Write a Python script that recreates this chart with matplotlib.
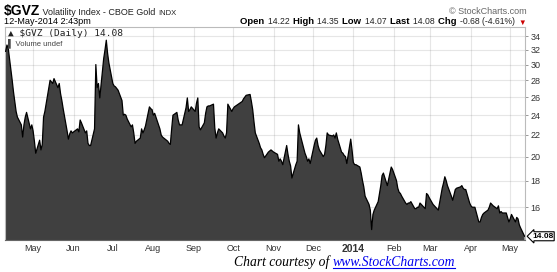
import matplotlib
matplotlib.use('Agg')
import matplotlib.pyplot as plt
from matplotlib.ticker import NullLocator
import pandas as pd

W, H = 557, 272

# daily closes of $GVZ, one per business day starting 2013-04-10
gvz = [
    31.8, 32.7, 32.2,
    28.0, 26.6, 25.5, 24.4, 23.8,
    23.0, 21.8, 23.0, 23.8, 24.3,
    22.6, 23.0, 22.4, 21.4, 20.3,
    21.5, 20.6, 21.1, 23.8, 24.4,
    27.0, 28.0, 27.8, 27.6, 28.2,
    27.1, 27.6, 26.4, 25.6, 24.7,
    22.4, 21.6, 22.1, 22.4, 22.2,
    22.5, 22.6, 22.3, 23.5, 23.2,
    22.2, 22.4, 21.2, 21.0, 21.0,
    22.6, 30.0, 27.1, 27.6, 25.9,
    30.8, 32.0, 33.4, 31.5, 30.2,
    27.6, 27.3, 27.2, 27.0, 26.8,
    25.6, 24.0, 24.1, 24.0, 23.6,
    22.8, 23.0, 22.2, 21.2, 21.4,
    21.7, 22.6, 22.2, 22.5, 22.9,
    24.9, 24.7, 24.6, 24.0, 24.2,
    23.0, 22.6, 22.0, 21.8, 21.7,
    21.4, 21.2, 21.1, 22.6, 24.0,
    24.3, 23.5, 23.0, 23.0, 23.0,
    24.8, 25.9, 24.4, 24.6, 24.9,
    24.4, 25.3, 25.9, 22.8, 22.5,
    23.2, 24.2, 24.9, 25.0, 25.0,
    25.2, 22.7, 21.7, 22.2, 22.6,
    22.2, 21.9, 21.7, 22.2, 25.2,
    24.4, 24.7, 24.9, 25.0, 25.1,
    25.4, 25.5, 25.8, 26.0, 26.2,
    26.3, 25.5, 24.6, 23.3, 22.2,
    21.2, 20.8, 20.6, 20.2, 19.9,
    20.4, 20.5, 20.6, 20.5, 20.4,
    20.2, 19.6, 19.8, 19.6, 19.3,
    21.0, 20.2, 19.6, 19.2, 18.2,
    19.3, 19.6, 23.0, 22.2, 21.7,
    20.3, 20.0, 19.6, 19.8, 19.4,
    21.0, 21.5, 21.7, 21.0, 20.6,
    20.0, 20.2, 21.0, 22.2, 22.0,
    21.9, 22.0, 21.7, 22.2, 21.6,
    20.4, 20.3, 20.1, 20.0, 19.4,
    21.6, 20.6, 19.5, 19.3, 19.3,
    19.1, 18.6, 18.0, 17.5, 16.8,
    16.2, 15.8, 14.5, 15.5, 15.8,
    16.4, 17.0, 17.6, 18.4, 18.6,
    17.6, 18.1, 18.6, 19.1, 18.9,
    18.0, 17.4, 17.1, 17.0, 16.8,
    16.3, 16.2, 16.3, 16.3, 16.4,
    15.9, 15.9, 16.0, 16.0, 16.3,
    16.0, 15.9, 17.0, 16.9, 16.7,
    16.2, 16.1, 16.0, 15.9, 15.8,
    17.4, 17.8, 18.3, 18.0, 17.6,
    16.8, 16.5, 16.9, 17.3, 17.4,
    17.5, 17.6, 17.4, 17.3, 17.3,
    16.3, 16.1, 16.0, 16.0, 16.0,
    15.0, 15.0, 15.3, 15.5, 15.6,
    15.8, 16.0, 16.3, 16.2, 16.1,
    15.9, 16.1, 15.6, 15.7, 15.6,
    15.6, 15.3, 15.0, 15.2, 15.5,
    15.0, 15.3, 15.2, 14.8, 14.6,
    14.08,
]

month_starts = ['2013-05-01', '2013-06-01', '2013-07-01', '2013-08-01', '2013-09-01',
                '2013-10-01', '2013-11-01', '2013-12-01', '2014-01-01', '2014-02-01',
                '2014-03-01', '2014-04-01', '2014-05-01']
month_labels = ['May', 'Jun', 'Jul', 'Aug', 'Sep', 'Oct', 'Nov', 'Dec', '2014',
                'Feb', 'Mar', 'Apr', 'May']
yticks = [16, 18, 20, 22, 24, 26, 28, 30, 32, 34]

quote = [('Open', '14.22'), ('High', '14.35'), ('Low', '14.07'),
         ('Last', '14.08'), ('Chg', '-0.68 (-4.61%)')]
last_value = 14.08

dates = pd.bdate_range('2013-04-10', periods=len(gvz))

sans = ['Liberation Sans', 'DejaVu Sans']
fig = plt.figure(figsize=(W / 100, H / 100), dpi=100)
renderer = fig.canvas.get_renderer()


def fx(x):
    return x / W


def fy(y):
    return 1 - y / H


def chain(x, y, parts, gap=0, right=None):
    # put text pieces one after another on a common baseline (pixel coords);
    # if right is given the whole run ends there
    out = []
    for s, kw in parts:
        t = fig.text(fx(x), fy(y), s, va='baseline', ha='left', **kw)
        bb = t.get_window_extent(renderer)
        out.append((t, bb))
        x += bb.width + gap
    if right is not None:
        shift = right - x
        for t, bb in out:
            px, py = t.get_position()
            t.set_position((px + shift / W, py))
    return out


ax = fig.add_axes([fx(5), fy(240), fx(520), 213 / H])
ax.set_yscale('log')
ax.fill_between(dates, gvz, 10, color='#404040', lw=0, zorder=2)
ax.plot(dates, gvz, color='black', lw=0.9, zorder=3)
ax.set_ylim(13.85, 35.4)
ax.set_xlim(pd.Timestamp('2013-04-09 12:00'), pd.Timestamp('2014-05-12 08:00'))

ax.yaxis.tick_right()
ax.set_yticks(yticks)
ax.set_yticklabels([str(v) for v in yticks])
ax.yaxis.set_minor_locator(NullLocator())
ax.set_xticks(pd.to_datetime(month_starts))
ax.set_xticklabels(month_labels)
ax.xaxis.set_minor_locator(NullLocator())
ax.tick_params(axis='y', labelsize=6.5, labelcolor='#333333', length=2, width=0.6,
               color='#888888', pad=2)
ax.tick_params(axis='x', labelsize=6.5, labelcolor='#333333', length=0, pad=3)
for lab in ax.get_xticklabels():
    lab.set_family(sans)
    if lab.get_text() == '2014':
        lab.set_fontweight('bold')
        lab.set_fontsize(7.5)
for lab in ax.get_yticklabels():
    lab.set_family(sans)

# grid drawn over the fill, faint so it shows on both white and dark
ax.grid(True, color=(0.46, 0.46, 0.46), alpha=0.18, lw=0.8, zorder=4)
for side in ['left', 'top', 'right']:
    ax.spines[side].set_color('#bbbbbb')
    ax.spines[side].set_linewidth(0.8)
ax.spines['bottom'].set_color('#666666')

ax.annotate('%.2f' % last_value, xy=(1, last_value), xycoords=('axes fraction', 'data'),
            xytext=(5, 0), textcoords='offset points', ha='left', va='center',
            fontsize=6, fontweight='bold', family=sans, annotation_clip=False,
            bbox=dict(boxstyle='larrow,pad=0.12', fc='white', ec='black', lw=0.8))

# legend inside plot
fig.text(fx(8), fy(33.5), '\u25b2 $GVZ (Daily) 14.08', fontsize=6.8, family='DejaVu Sans Mono',
         va='center', ha='left', color='#222222')
fig.text(fx(8), fy(43), '\u258c Volume undef', fontsize=5.5, family=sans,
         va='center', ha='left', color='#444444')

# header
chain(4, 15, [('$GVZ', dict(fontsize=10, fontweight='bold', family=sans)),
              (' Volatility Index - CBOE Gold ', dict(fontsize=6.5, family=sans, color='#222222')),
              ('INDX', dict(fontsize=5.5, family=sans, color='#222222'))])
fig.text(fx(4), fy(22), '12-May-2014 2:43pm', fontsize=6.6, family=sans, va='center', ha='left')
fig.text(fx(527), fy(12), '\u00a9 StockCharts.com', fontsize=6.5, family=sans,
         color='#666666', va='center', ha='right')

parts = []
for name, val in quote:
    parts.append((name + ' ', dict(fontsize=6.8, fontweight='bold', family=sans)))
    parts.append((val + ' ', dict(fontsize=6.2, family=sans, color='#222222')))
parts.append(('\u25bc', dict(fontsize=5.5, family=sans, color='#cc0000')))
chain(251, 24.5, parts, gap=1, right=527)

# footer
pieces = chain(234, 266, [('Chart courtesy of ', dict(fontsize=9.8, family='Liberation Serif',
                                                       style='italic', color='black')),
                          ('www.StockCharts.com', dict(fontsize=9.8, family='Liberation Serif',
                                                       style='italic', color='#0000ee'))])
t, bb = pieces[1]
fig.add_artist(plt.Line2D([bb.x0 / W, bb.x1 / W], [(bb.y0 + 1) / H, (bb.y0 + 1) / H],
                          color='#0000ee', lw=0.8))

fig.savefig('out.png', dpi=100, facecolor='white')
